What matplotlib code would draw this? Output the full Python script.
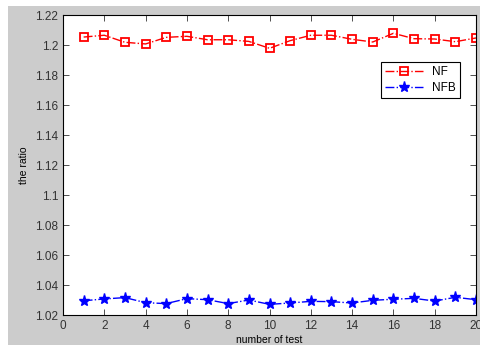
import matplotlib.pyplot as plt
from matplotlib.patches import Rectangle
import numpy as np

tests = np.arange(1, 21)
nf = [1.2053, 1.2065, 1.2018, 1.2007, 1.2051, 1.2058, 1.2035, 1.2035, 1.2024, 1.1978,
      1.2029, 1.2065, 1.2065, 1.2038, 1.2020, 1.2078, 1.2042, 1.2040, 1.2022, 1.2047]
nfb = [1.0295, 1.0307, 1.0316, 1.0282, 1.0276, 1.0309, 1.0302, 1.0276, 1.0300, 1.0271,
       1.0280, 1.0291, 1.0289, 1.0280, 1.0298, 1.0305, 1.0311, 1.0293, 1.0318, 1.0302]

plt.rcParams['font.family'] = ['Liberation Sans', 'DejaVu Sans']
fig = plt.figure(figsize=(4.81, 3.45), dpi=100, facecolor='white')
W, H = 481, 345
# grey MATLAB-like window, cropped with a thin white strip top/left
fig.patches.append(Rectangle((8 / W, 0), 1, 1 - 6 / H, transform=fig.transFigure,
                             facecolor='#cccccc', edgecolor='none', zorder=-1))

ax = fig.add_axes([63 / W, 1 - 315 / H, (476 - 63) / W, (315 - 15) / H])
ax.plot(tests, nf, color='red', linestyle='-.', linewidth=1, marker='s',
        markersize=5.5, markerfacecolor='none', markeredgewidth=1.3, label='NF')
ax.plot(tests, nfb, color='blue', linestyle='-.', linewidth=1, marker='*',
        markersize=8, label='NFB')

ax.set_xlim(0, 20)
ax.set_ylim(1.02, 1.22)
ax.set_xticks(np.arange(0, 21, 2))
ax.set_yticks(np.arange(1.02, 1.2201, 0.02))
ax.set_yticklabels(['1.02', '1.04', '1.06', '1.08', '1.1', '1.12', '1.14',
                    '1.16', '1.18', '1.2', '1.22'])
ax.tick_params(direction='in', top=True, right=True, labelsize=8.5,
               colors='#333333', length=4, width=0.6)
for s in ax.spines.values():
    s.set_linewidth(0.8)
ax.set_xlabel('number of test', fontsize=7.5, labelpad=2)
ax.set_ylabel('the ratio', fontsize=7.5, labelpad=4)

leg = ax.legend(loc='upper right', bbox_to_anchor=(0.961, 0.843), borderaxespad=0,
                fontsize=8.5, fancybox=False, edgecolor='black', framealpha=1,
                handlelength=3.2, borderpad=0.35, labelspacing=0.3)
leg.get_frame().set_linewidth(0.8)

plt.savefig('out.png', dpi=100, facecolor=fig.get_facecolor())
